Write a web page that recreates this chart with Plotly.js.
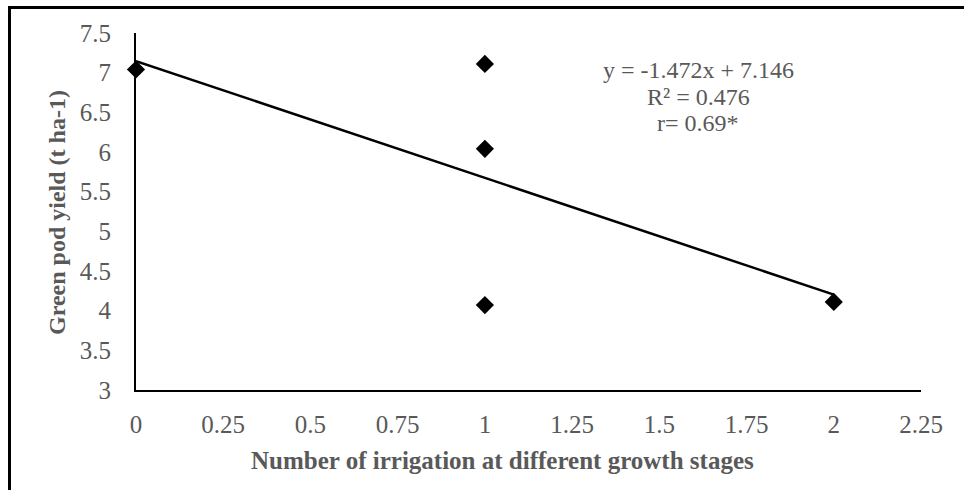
<!DOCTYPE html>
<html>
<head>
<meta charset="utf-8">
<script src="https://cdn.plot.ly/plotly-3.0.1.min.js"></script>
<style>
  html, body { margin: 0; padding: 0; background: #fff; }
  #wrap { position: relative; width: 964px; height: 490px; overflow: hidden; }
  #frame { position: absolute; left: 8px; top: 6px; width: 960px; height: 490px;
           border-top: 3px solid #000; border-left: 3px solid #000; pointer-events: none; z-index: 5; }
  #chart { position: absolute; left: 0; top: 0; width: 964px; height: 490px; }
</style>
</head>
<body>
<div id="wrap">
  <div id="chart"></div>
  <div id="frame"></div>
</div>
<script>
// Data
const irrigations = [0, 1, 1, 1, 2];
const yieldValues = [7.04, 7.11, 6.04, 4.07, 4.11];
const xTicks = [0, 0.25, 0.5, 0.75, 1, 1.25, 1.5, 1.75, 2, 2.25];
const xTickLabels = ["0", "0.25", "0.5", "0.75", "1", "1.25", "1.5", "1.75", "2", "2.25"];
const yTicks = [3, 3.5, 4, 4.5, 5, 5.5, 6, 6.5, 7, 7.5];
const yTickLabels = ["3", "3.5", "4", "4.5", "5", "5.5", "6", "6.5", "7", "7.5"];
const trendSlope = -1.472;
const trendIntercept = 7.146;
const trendX = [0, 2];
const trendY = trendX.map(x => trendSlope * x + trendIntercept);
const equationLines = ["y = -1.472x + 7.146", "R² = 0.476", "r= 0.69*"];

const serif = "Liberation Serif, Times New Roman, serif";
const grey = "#595959";

const traces = [
  {
    x: trendX, y: trendY, mode: "lines", type: "scatter", cliponaxis: false,
    line: { color: "#000", width: 2.5 }, hoverinfo: "skip"
  },
  {
    x: irrigations, y: yieldValues, mode: "markers", type: "scatter", cliponaxis: false,
    marker: { symbol: "diamond", size: 14, color: "#000" }
  }
];

const eqY = [70, 97, 123];
const eqAnnotations = equationLines.map((t, i) => ({
  xref: "paper", yref: "paper", x: (698 - 136) / 785, y: (390 - eqY[i]) / 357,
  xanchor: "center", yanchor: "middle", showarrow: false,
  text: t, font: { family: serif, color: grey, size: 24 }
}));

const layout = {
  width: 964, height: 490,
  margin: { l: 136, r: 43, t: 33, b: 100 },
  paper_bgcolor: "#fff", plot_bgcolor: "#fff",
  showlegend: false,
  font: { family: serif, color: grey, size: 24 },
  xaxis: {
    range: [0, 2.25], tickvals: xTicks, ticktext: xTickLabels,
    showgrid: false, zeroline: false, showline: true, linecolor: "#000", linewidth: 2,
    ticks: "", ticklabelstandoff: 11,
    tickfont: { family: serif, color: grey, size: 25 }
  },
  yaxis: {
    range: [3, 7.5], tickvals: yTicks, ticktext: yTickLabels,
    showgrid: false, zeroline: false, showline: true, linecolor: "#000", linewidth: 2,
    ticks: "", ticklabelstandoff: 18,
    tickfont: { family: serif, color: grey, size: 25 }
  },
  annotations: [
    {
      xref: "paper", yref: "paper", x: (502 - 136) / 785, y: -(460 - 390) / 357,
      xanchor: "center", yanchor: "middle", showarrow: false,
      text: "<b>Number of irrigation at different growth stages</b>",
      font: { family: serif, color: grey, size: 25 }
    },
    {
      xref: "paper", yref: "paper", x: -(136 - 57) / 785, y: (390 - 213) / 357,
      xanchor: "center", yanchor: "middle", showarrow: false, textangle: -90,
      text: "<b>Green pod yield (t ha-1)</b>",
      font: { family: serif, color: grey, size: 24 }
    }
  ].concat(eqAnnotations)
};

Plotly.newPlot("chart", traces, layout, { displayModeBar: false, staticPlot: true });
</script>
</body>
</html>
